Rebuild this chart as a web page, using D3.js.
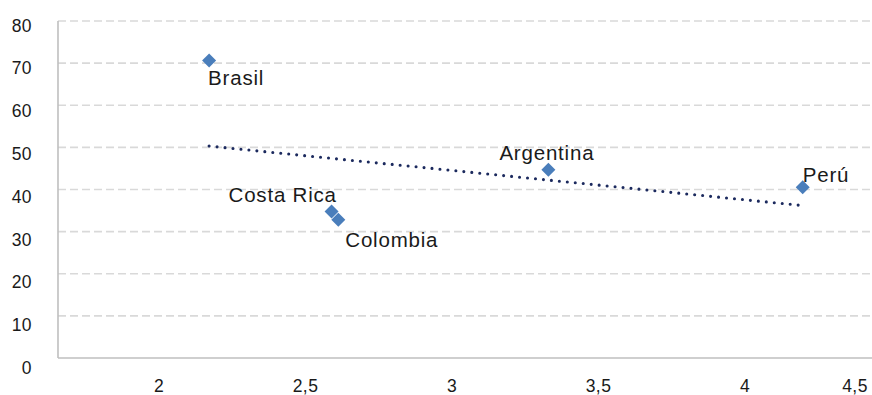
<!DOCTYPE html>
<html>
<head>
<meta charset="utf-8">
<script src="https://cdn.jsdelivr.net/npm/d3@7"></script>
<style>
  html, body { margin: 0; padding: 0; background: #fff; }
  svg { display: block; }
</style>
</head>
<body>
<div id="chart"></div>
<script>
// ---- data ----
const countries = ["Brasil", "Costa Rica", "Colombia", "Argentina", "Perú"];
const xValues = [2.171, 2.589, 2.612, 3.329, 4.197];
const yValues = [70.6, 34.75, 32.8, 44.66, 40.55];
const xTicks = [2, 2.5, 3, 3.5, 4, 4.5];
const yTicks = [0, 10, 20, 30, 40, 50, 60, 70, 80];

// ---- layout ----
const W = 872, H = 395;
const plotLeft = 58, plotTop = 21, plotBottom = 358;
// label offsets relative to marker (layout only)
const labelOffsets = {
  "Brasil": [-1, 24],
  "Costa Rica": [-103, -10],
  "Colombia": [7, 27],
  "Argentina": [-49, -10],
  "Perú": [0, -5]
};

const svg = d3.select("#chart").append("svg")
  .attr("width", W).attr("height", H);

const x = d3.scaleLinear().domain([2, 4]).range([159, 745]);
const y = d3.scaleLinear().domain([0, 80]).range([plotBottom, plotTop]);
// label placement scale (tick labels sit slightly spread from gridlines in the reference)
const yLab = d3.scaleLinear().domain([0, 80]).range([368, 25.5]);

const fmt = v => String(v).replace(".", ",");

// gridlines
svg.append("g").selectAll("line")
  .data(yTicks.filter(d => d > 0))
  .join("line")
  .attr("x1", plotLeft).attr("x2", W)
  .attr("y1", d => y(d)).attr("y2", d => y(d))
  .attr("stroke", "#d9d9d9")
  .attr("stroke-width", 1.6)
  .attr("stroke-dasharray", "8,4");

// axes
svg.append("line").attr("x1", plotLeft).attr("x2", plotLeft)
  .attr("y1", plotTop).attr("y2", plotBottom)
  .attr("stroke", "#bfbfbf").attr("stroke-width", 1.6);
svg.append("line").attr("x1", plotLeft).attr("x2", W)
  .attr("y1", plotBottom).attr("y2", plotBottom)
  .attr("stroke", "#bfbfbf").attr("stroke-width", 1.6);

const font = "'Liberation Sans', Arial, Helvetica, sans-serif";

// y tick labels
svg.append("g").selectAll("text")
  .data(yTicks)
  .join("text")
  .attr("x", 32)
  .attr("y", d => yLab(d) + 6)
  .attr("text-anchor", "end")
  .attr("font-family", font)
  .attr("font-size", 17.5)
  .attr("letter-spacing", 0.4)
  .attr("fill", "#1a1a1a")
  .text(d => d);

// x tick labels
svg.append("g").selectAll("text")
  .data(xTicks)
  .join("text")
  .attr("x", d => Math.min(x(d), W - 17))
  .attr("y", 391.5)
  .attr("text-anchor", "middle")
  .attr("font-family", font)
  .attr("font-size", 17.5)
  .attr("letter-spacing", 0.4)
  .attr("fill", "#1a1a1a")
  .text(d => fmt(d));

// trendline (least squares)
const n = xValues.length;
const mx = d3.mean(xValues), my = d3.mean(yValues);
let sxy = 0, sxx = 0;
for (let i = 0; i < n; i++) {
  sxy += (xValues[i] - mx) * (yValues[i] - my);
  sxx += (xValues[i] - mx) ** 2;
}
const slope = sxy / sxx, intercept = my - slope * mx;
const [xmin, xmax] = d3.extent(xValues);
const trend = [xmin, xmax].map(v => [v, intercept + slope * v]);
svg.append("path")
  .attr("d", d3.line().x(d => x(d[0])).y(d => y(d[1]))(trend))
  .attr("fill", "none")
  .attr("stroke", "#1c2a5e")
  .attr("stroke-width", 3.1)
  .attr("stroke-linecap", "round")
  .attr("stroke-dasharray", "0,8");

// markers
const pts = countries.map((c, i) => ({ c, x: xValues[i], y: yValues[i] }));
svg.append("g").selectAll("path")
  .data(pts)
  .join("path")
  .attr("transform", d => `translate(${x(d.x)},${y(d.y)})`)
  .attr("d", d3.symbol().type(d3.symbolDiamond2).size(125))
  .attr("fill", "#4a7ebb");

// data labels
svg.append("g").selectAll("text")
  .data(pts)
  .join("text")
  .attr("x", d => x(d.x) + labelOffsets[d.c][0])
  .attr("y", d => y(d.y) + labelOffsets[d.c][1])
  .attr("font-family", font)
  .attr("font-size", 20.5)
  .attr("letter-spacing", 0.8)
  .attr("fill", "#1a1a1a")
  .text(d => d.c);
</script>
</body>
</html>
